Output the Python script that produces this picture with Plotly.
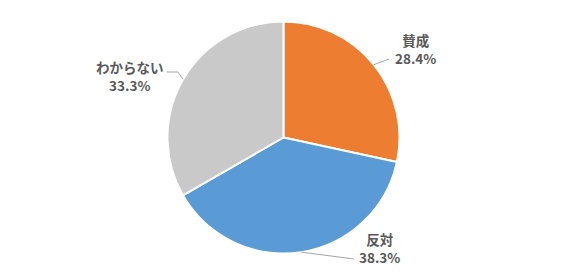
import math
import plotly.graph_objects as go

labels = ["賛成", "反対", "わからない"]
values = [28.4, 38.3, 33.3]
pct_text = ["28.4%", "38.3%", "33.3%"]
colors = ["#ED7D31", "#5B9BD5", "#C9C9C9"]

W, H = 565, 278
cx, cy, R = 283.5, 137.5, 116

fig = go.Figure(go.Pie(
    labels=labels, values=values, sort=False, direction="clockwise", rotation=0,
    marker=dict(colors=colors, line=dict(color="white", width=2)),
    textinfo="none", hoverinfo="label+percent", showlegend=False,
    domain=dict(x=[(cx - R) / W, (cx + R) / W], y=[(H - cy - R) / H, (H - cy + R) / H]),
))

def px(x):
    return x / W

def py(y):
    return 1 - y / H

# label block centre (pixels) and leader-line path from the slice edge
label_pos = {
    "賛成": dict(c=(415.5, 49), path=[(389, 59)]),
    "反対": dict(c=(379, 247.5), path=[(354, 259)]),
    "わからない": dict(c=(130, 75.5), path=[(178, 72), (167, 72)]),
}

total = sum(values)
cum = 0
font = dict(family="Noto Sans CJK JP, Noto Sans, sans-serif", size=13.5, color="#595959")
for lab, val, pt in zip(labels, values, pct_text):
    mid = (cum + val / 2) / total * 2 * math.pi
    cum += val
    sx, sy = cx + R * math.sin(mid), cy - R * math.cos(mid)
    pos = label_pos[lab]
    pts = [(sx, sy)] + pos["path"]
    path = "M " + " L ".join(f"{px(x)},{py(y)}" for x, y in pts)
    fig.add_shape(type="path", path=path, xref="paper", yref="paper",
                  line=dict(color="#A6A6A6", width=1))
    fig.add_annotation(x=px(pos["c"][0]), y=py(pos["c"][1]), xref="paper", yref="paper",
                       text=f"<b>{lab}</b><br><b>{pt}</b>", showarrow=False, font=font,
                       xanchor="center", yanchor="middle", align="center")

fig.update_layout(width=W, height=H, margin=dict(l=0, r=0, t=0, b=0),
                  paper_bgcolor="white", plot_bgcolor="white")
fig.write_html("out.html")
